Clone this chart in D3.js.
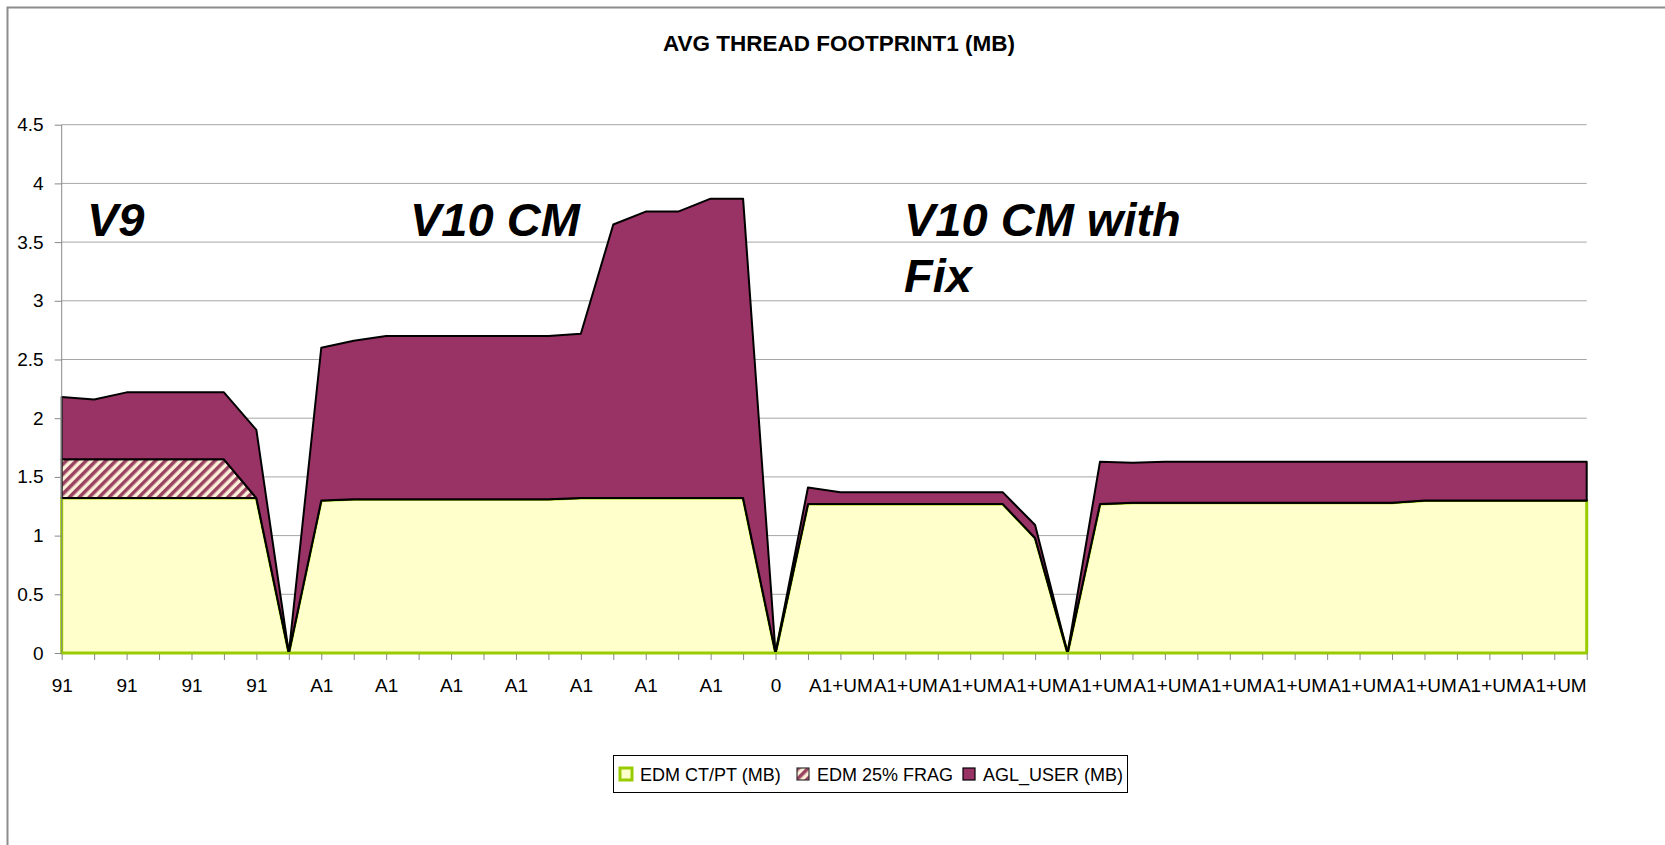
<!DOCTYPE html>
<meta charset="utf-8">
<style type="text/css">
	body {
		margin: 0;
		background: #ffffff;
		overflow: hidden;
	}
	.vis-footprint svg {
		display: block;
	}
	.vis-footprint text {
		font-family: "Liberation Sans", Arial, sans-serif;
	}
	.axis text {
		font-size: 19px;
		fill: #000000;
	}
	.axis path, .axis line {
		stroke: #888888;
	}
	.grid line {
		stroke: #a6a6a6;
		stroke-width: 1;
	}
	.label-version {
		font-size: 47px;
		font-weight: 700;
		font-style: italic;
	}
	.legend-label {
		font-size: 18px;
	}
</style>

<div class="vis-footprint"></div>

<script src="https://d3js.org/d3.v7.min.js"></script>

<script>

	// ---- //
	// Data //
	// ---- //

	let categories = [
		"91", "91", "91", "91", "91", "91", "91", "",
		"A1", "A1", "A1", "A1", "A1", "A1", "A1", "A1", "A1", "A1", "A1", "A1", "A1", "A1",
		"0",
		"A1+UM", "A1+UM", "A1+UM", "A1+UM", "A1+UM", "A1+UM", "A1+UM", "A1+UM",
		"",
		"A1+UM", "A1+UM", "A1+UM", "A1+UM", "A1+UM", "A1+UM", "A1+UM", "A1+UM",
		"A1+UM", "A1+UM", "A1+UM", "A1+UM", "A1+UM", "A1+UM", "A1+UM", "A1+UM"
	];

	let edmCtPt = [
		1.32, 1.32, 1.32, 1.32, 1.32, 1.32, 1.32, 0,
		1.30, 1.31, 1.31, 1.31, 1.31, 1.31, 1.31, 1.31, 1.32, 1.32, 1.32, 1.32, 1.32, 1.32,
		0,
		1.27, 1.27, 1.27, 1.27, 1.27, 1.27, 1.27, 0.98,
		0,
		1.27, 1.28, 1.28, 1.28, 1.28, 1.28, 1.28, 1.28,
		1.28, 1.28, 1.30, 1.30, 1.30, 1.30, 1.30, 1.30
	];

	let edmFrag = [
		0.33, 0.33, 0.33, 0.33, 0.33, 0.33, 0, 0,
		0, 0, 0, 0, 0, 0, 0, 0, 0, 0, 0, 0, 0, 0,
		0,
		0, 0, 0, 0, 0, 0, 0, 0,
		0,
		0, 0, 0, 0, 0, 0, 0, 0,
		0, 0, 0, 0, 0, 0, 0, 0
	];

	let aglUser = [
		0.53, 0.51, 0.57, 0.57, 0.57, 0.57, 0.58, 0,
		1.30, 1.35, 1.39, 1.39, 1.39, 1.39, 1.39, 1.39, 1.40, 2.33, 2.44, 2.44, 2.55, 2.55,
		0,
		0.14, 0.10, 0.10, 0.10, 0.10, 0.10, 0.10, 0.11,
		0,
		0.36, 0.34, 0.35, 0.35, 0.35, 0.35, 0.35, 0.35,
		0.35, 0.35, 0.33, 0.33, 0.33, 0.33, 0.33, 0.33
	];

	let seriesKeys = ["edm", "frag", "agl"];
	let seriesNames = ["EDM CT/PT (MB)", "EDM 25% FRAG", "AGL_USER (MB)"];
	let yTicks = [0, 0.5, 1, 1.5, 2, 2.5, 3, 3.5, 4, 4.5];
	let versionLabels = ["V9", "V10 CM", "V10 CM with", "Fix"];

	// ----- //
	// Setup //
	// ----- //

	let width = 1665, height = 845;
	let plot = { left: 61.7, right: 1586.7, top: 124.7, bottom: 653 };

	let svg = d3.select(".vis-footprint")
		.append("svg")
			.attr("width", width)
			.attr("height", height);

	// hatch for the fragmentation series
	let defs = svg.append("defs");
	let pattern = defs.append("pattern")
		.attr("id", "hatch")
		.attr("patternUnits", "userSpaceOnUse")
		.attr("width", 7)
		.attr("height", 7)
		.attr("patternTransform", "rotate(45)");
	pattern.append("rect")
		.attr("width", 7)
		.attr("height", 7)
		.attr("fill", "#fcefd8");
	pattern.append("rect")
		.attr("width", 3.5)
		.attr("height", 7)
		.attr("fill", "#9a4262");

	// chart frame (only top and left edges fall inside the picture)
	svg.append("path")
		.attr("d", "M7.5," + height + "V7.5H" + width)
		.attr("fill", "none")
		.attr("stroke", "#8c8c8c")
		.attr("stroke-width", 2);

	// Scales
	let idx = d3.range(categories.length);
	let x = d3.scalePoint().domain(idx).range([plot.left, plot.right]);
	let y = d3.scaleLinear().domain([0, 4.5]).range([plot.bottom, plot.top]);

	// TITLE
	svg.append("text")
		.attr("x", 839)
		.attr("y", 51)
		.style("text-anchor", "middle")
		.style("font-weight", 700)
		.style("font-size", "22.5px")
		.text("AVG THREAD FOOTPRINT1 (MB)");

	// GRID
	svg.append("g")
		.attr("class", "grid")
		.selectAll("line")
		.data(yTicks.slice(1))
		.enter().append("line")
			.attr("x1", plot.left)
			.attr("x2", plot.right)
			.attr("y1", d => y(d))
			.attr("y2", d => y(d));

	// ----- //
	// Areas //
	// ----- //

	let rows = idx.map(i => ({ i: i, edm: edmCtPt[i], frag: edmFrag[i], agl: aglUser[i] }));
	let stacked = d3.stack().keys(seriesKeys)(rows);

	let area = d3.area()
		.x(d => x(d.data.i))
		.y0(d => y(d[0]))
		.y1(d => y(d[1]));

	let fills = ["#ffffcc", "url(#hatch)", "#993366"];
	let strokes = ["#99cc00", "#000000", "#000000"];
	let strokeWidths = [3, 2, 2];

	svg.append("g")
		.selectAll("path")
		.data(stacked)
		.enter().append("path")
			.attr("d", area)
			.attr("fill", (d, k) => fills[k])
			.attr("stroke", (d, k) => strokes[k])
			.attr("stroke-width", (d, k) => strokeWidths[k])
			.attr("stroke-linejoin", "round");

	// AXES
	svg.append("g")
		.attr("class", "axis")
		.attr("transform", "translate(0," + plot.bottom + ")")
		.call(d3.axisBottom(x)
			.tickSize(7)
			.tickPadding(19)
			.tickFormat(i => i % 2 === 0 ? categories[i] : ""))
		.call(g => g.select(".domain").remove());

	svg.append("g")
		.attr("class", "axis")
		.attr("transform", "translate(" + plot.left + ",0)")
		.call(d3.axisLeft(y)
			.tickValues(yTicks)
			.tickSize(7)
			.tickPadding(11)
			.tickFormat(d => String(d)))
		.call(g => g.select(".domain").attr("d", "M0," + plot.top + "V" + plot.bottom));

	svg.append("line")
		.attr("x1", plot.left)
		.attr("x2", plot.right)
		.attr("y1", plot.bottom)
		.attr("y2", plot.bottom)
		.attr("stroke", "#99cc00")
		.attr("stroke-width", 2);

	// VERSION LABELS
	let versionPos = [[87, 236], [410, 236], [904, 236], [904, 292]];
	svg.selectAll(".label-version")
		.data(versionLabels)
		.enter().append("text")
			.attr("class", "label-version")
			.attr("x", (d, k) => versionPos[k][0])
			.attr("y", (d, k) => versionPos[k][1])
			.text(d => d);

	// ------ //
	// Legend //
	// ------ //

	let legend = svg.append("g");
	legend.append("rect")
		.attr("x", 613.5)
		.attr("y", 755.5)
		.attr("width", 514)
		.attr("height", 37)
		.attr("fill", "#ffffff")
		.attr("stroke", "#000000")
		.attr("stroke-width", 1);

	let swatchX = [619, 796, 962];
	let swatchStroke = ["#99cc00", "#333333", "#000000"];
	let swatchWidth = [3, 1.2, 1.2];
	let item = legend.selectAll(".legend-item")
		.data(seriesNames)
		.enter().append("g")
			.attr("class", "legend-item");
	item.append("rect")
		.attr("x", (d, k) => swatchX[k] + 1)
		.attr("y", 768)
		.attr("width", 12)
		.attr("height", 12)
		.attr("fill", (d, k) => fills[k])
		.attr("stroke", (d, k) => swatchStroke[k])
		.attr("stroke-width", (d, k) => swatchWidth[k]);
	item.append("text")
		.attr("class", "legend-label")
		.attr("x", (d, k) => swatchX[k] + 21)
		.attr("y", 781)
		.text(d => d);

</script>
